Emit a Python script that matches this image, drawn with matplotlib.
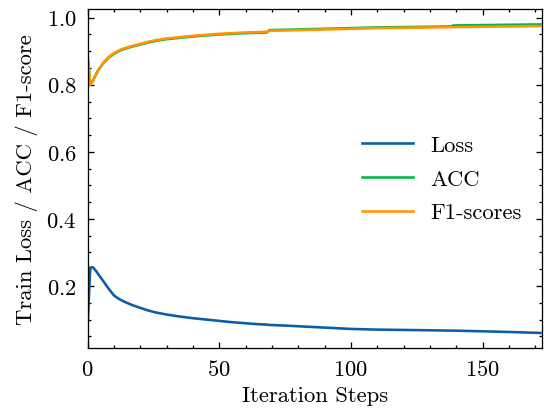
import matplotlib
matplotlib.use('Agg')
import matplotlib.pyplot as plt
from matplotlib.ticker import MultipleLocator

# values
steps = [0, 1, 2, 3, 4, 6, 8, 10, 12, 14, 17, 20, 23, 26, 30, 35, 40, 45, 50,
         55, 60, 65, 68, 69, 75, 80, 90, 100, 110, 120, 130, 138, 139, 150, 160, 172]

loss = [0.080, 0.255, 0.256, 0.247, 0.236, 0.214, 0.192, 0.172, 0.161, 0.153,
        0.143, 0.135, 0.127, 0.121, 0.115, 0.109, 0.104, 0.100, 0.096,
        0.092, 0.089, 0.086, 0.085, 0.084, 0.082, 0.080, 0.076, 0.072, 0.070,
        0.069, 0.068, 0.067, 0.067, 0.065, 0.063, 0.060]

acc = [0.885, 0.803, 0.812, 0.828, 0.843, 0.865, 0.881, 0.892, 0.901, 0.907,
       0.914, 0.920, 0.926, 0.931, 0.936, 0.940, 0.944, 0.947, 0.950,
       0.952, 0.954, 0.955, 0.956, 0.963, 0.964, 0.965, 0.967, 0.969, 0.971,
       0.972, 0.973, 0.974, 0.977, 0.978, 0.979, 0.980]

f1 = [0.892, 0.800, 0.810, 0.827, 0.843, 0.866, 0.883, 0.894, 0.903, 0.909,
      0.916, 0.922, 0.928, 0.933, 0.938, 0.942, 0.946, 0.949, 0.952,
      0.954, 0.956, 0.957, 0.958, 0.961, 0.962, 0.963, 0.965, 0.967, 0.969,
      0.970, 0.971, 0.972, 0.972, 0.973, 0.974, 0.975]

plt.rcParams['font.family'] = 'cmr10'
plt.rcParams['mathtext.fontset'] = 'cm'
plt.rcParams['axes.formatter.use_mathtext'] = True
plt.rcParams['font.size'] = 10.5

fig, ax = plt.subplots(figsize=(3.5, 2.65), dpi=155.43)
fig.subplots_adjust(left=0.161, right=0.996, top=0.976, bottom=0.152)

ax.plot(steps, loss, color='#0C5DA5', lw=1.2, label='Loss')
ax.plot(steps, acc, color='#00B945', lw=1.2, label='ACC')
ax.plot(steps, f1, color='#FF9500', lw=1.2, label='F1-scores')

ax.set_xlim(0, 172.5)
ax.set_xlabel('Iteration Steps', labelpad=3)
ax.set_ylabel('Train Loss / ACC / F1-score', labelpad=4)

ax.xaxis.set_major_locator(MultipleLocator(50))
ax.xaxis.set_minor_locator(MultipleLocator(10))
ax.yaxis.set_major_locator(MultipleLocator(0.2))
ax.yaxis.set_minor_locator(MultipleLocator(0.05))
ax.tick_params(which='both', direction='in', top=True, right=True, width=0.6)
ax.tick_params(which='major', length=3, pad=5)
ax.tick_params(which='minor', length=1.5)
for s in ax.spines.values():
    s.set_linewidth(0.6)

ax.legend(loc='center right', frameon=False, bbox_to_anchor=(1.0, 0.5),
          handlelength=2.25, labelspacing=0.62, handletextpad=0.75)

fig.savefig('out.png', dpi=155.43)
